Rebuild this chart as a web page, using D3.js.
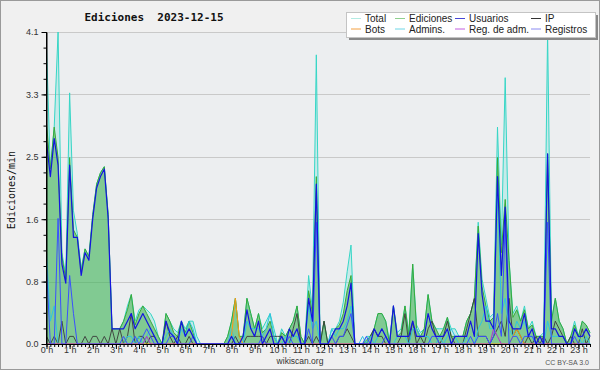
<!DOCTYPE html>
<html>
<head>
<meta charset="utf-8">
<script src="https://cdnjs.cloudflare.com/ajax/libs/d3/7.8.5/d3.min.js"></script>
<style>
body { margin: 0; background: #fff; }
</style>
</head>
<body>
<div id="chart"></div>
<script>
// 10 minute steps, 00:00 .. 23:30 (values in edits/min)
var hourLabels = ["0 h","1 h","2 h","3 h","4 h","5 h","6 h","7 h","8 h","9 h","10 h","11 h",
    "12 h","13 h","14 h","15 h","16 h","17 h","18 h","19 h","20 h","21 h","22 h","23 h"];

var total = [
    3.9,2.3,2.85,4.1,1.2,0.9, 3.3,1.75,1.45,1.0,1.25,1.15, 1.7,2.1,2.25,2.33,1.7,0.2,
    0.2,0.2,0.3,0.5,0.65,0.3, 0.45,0.5,0.45,0.4,0.3,0.1, 0,0.4,0.3,0.2,0.15,0.3,
    0.2,0.3,0.3,0.1,0,0, 0,0,0,0,0,0.1, 0.3,0.6,0.1,0.1,0.6,0.4,
    0.2,0.4,0.2,0.3,0.4,0.2, 0,0.2,0.1,0.2,0.3,0.5, 0.1,0,0.9,0.45,3.8,0,
    0.3,0,0.2,0.2,0.3,0.55, 0.95,1.3,0,0,0,0.1, 0.1,0.2,0.4,0.4,0.3,0.05,
    0.5,0.15,0.2,0.5,0.15,1.05, 0.25,0.15,0.2,0.65,0.3,0.2, 0.2,0.2,0.35,0.2,0.2,0.1,
    0.1,0.3,0.4,0.6,1.6,0.85, 0.6,0.35,0.4,2.85,1.3,3.5, 1.1,0.4,0.5,0.3,0.5,0.2,
    0.3,0.1,0.1,0.15,4.1,0.3, 0.6,0.3,0.2,0,0.1,0.3, 0.1,0.3,0.25,0.15];

var ediciones = [
    2.9,2.3,2.85,2.45,1.15,0.85, 2.45,1.5,1.4,0.95,1.25,1.15, 1.7,2.1,2.25,2.33,1.7,0.2,
    0.2,0.2,0.3,0.45,0.65,0.25, 0.4,0.5,0.4,0.3,0.2,0.1, 0,0.4,0.3,0.15,0.1,0.3,
    0.15,0.3,0.15,0,0,0, 0,0,0,0,0,0.1, 0.3,0.6,0.1,0.1,0.6,0.4,
    0.2,0.4,0.15,0.2,0.3,0.1, 0,0.15,0.1,0.2,0.3,0.5, 0.1,0,0.7,0.4,2.2,0,
    0.3,0,0.1,0.2,0.25,0.4, 0.7,0.9,0,0,0,0.05, 0.1,0.2,0.4,0.4,0.3,0,
    0.5,0.1,0.15,0.5,0.1,1.05, 0.2,0.1,0.2,0.65,0.3,0.2, 0.1,0.2,0.35,0.1,0.1,0.1,
    0.1,0.3,0.4,0.6,1.55,0.75, 0.5,0.3,0.35,2.45,1.2,1.9, 1.1,0.35,0.45,0.3,0.45,0.2,
    0.25,0.1,0.1,0.1,2.5,0.3, 0.6,0.3,0.2,0,0.1,0.25, 0.1,0.3,0.25,0.15];

var usuarios = [
    2.65,2.2,2.7,2.35,1.05,0.8, 2.35,1.4,1.4,0.9,1.2,1.1, 1.65,2.05,2.2,2.3,1.65,0.2,
    0.2,0.2,0.2,0.3,0.4,0.2, 0.3,0.4,0.3,0.2,0.1,0, 0,0.3,0.15,0.1,0,0.3,
    0.1,0.2,0.1,0,0,0, 0,0,0,0,0,0, 0.1,0,0,0.1,0.45,0.2,
    0.1,0.3,0,0.1,0.2,0, 0,0.1,0,0.2,0.1,0.2, 0,0,0.6,0.3,2.1,0,
    0,0,0.1,0.2,0.2,0.3, 0.5,0.8,0,0,0,0, 0,0.2,0.1,0.2,0.1,0,
    0.5,0.1,0.1,0.1,0.1,0.3, 0.1,0.1,0.1,0.4,0.2,0.1, 0.1,0.1,0.2,0,0.1,0.1,
    0.1,0.1,0.3,0.1,1.45,0.65, 0.3,0.3,0.2,2.2,0.9,1.8, 0.3,0.2,0.2,0.2,0.4,0.1,
    0.2,0,0.1,0,2.5,0.2, 0.2,0.1,0.1,0,0,0.2, 0.1,0.1,0.2,0.1];

var ip = [
    0.1,0,0.1,0,0.3,0, 0.1,0.1,0,0,0.1,0, 0.1,0.1,0,0.1,0,0.2,
    0,0.2,0,0.1,0.4,0, 0.1,0.1,0,0.1,0.1,0, 0,0.3,0.1,0,0.1,0,
    0,0.1,0,0,0,0, 0,0,0,0,0,0, 0,0.1,0,0,0.1,0.1,
    0.1,0.1,0.1,0,0.1,0.1, 0.1,0.1,0,0,0.2,0.4, 0,0,0.1,0,0.1,0,
    0.3,0,0,0,0.1,0.1, 0.2,0.1,0,0,0,0, 0.1,0.2,0.1,0.1,0,0,
    0,0,0.1,0.4,0,0.3, 0,0.1,0,0.2,0.3,0.1, 0,0.1,0.3,0.1,0,0,
    0,0.2,0.4,0.6,0.1,0.1, 0.1,0,0.1,0.2,0.3,0.1, 0.6,0.1,0.2,0.1,0,0.1,
    0,0.1,0,0.1,0,0.1, 0.3,0.2,0.1,0,0.1,0, 0,0.2,0,0.1];

var bots = [
    0,0,0,0,0,0, 0,0,0,0,0,0, 0,0,0,0,0,0,
    0,0,0,0,0,0, 0,0,0,0,0,0, 0,0,0,0,0,0,
    0,0,0,0,0,0, 0,0,0,0,0,0, 0.1,0.6,0.1,0,0,0,
    0,0,0,0,0,0, 0,0,0,0,0,0, 0,0,0,0,0,0,
    0,0,0,0,0,0, 0,0,0,0,0,0, 0,0,0,0,0,0,
    0,0,0,0,0,0, 0,0,0,0,0,0, 0,0,0,0,0,0,
    0,0,0,0,0,0, 0,0,0,0,0,0, 0,0.1,0.2,0.1,0,0,
    0,0,0,0,0,0, 0,0,0,0,0,0, 0,0,0,0];

var admins = [
    1.2,0.3,0.5,0,0,0, 0,0,0,0,0,0, 0,0,0,0,0,0,
    0,0,0,0.1,0.1,0, 0.1,0,0.1,0.2,0.1,0, 0,0.1,0.2,0.1,0,0.2,
    0.1,0.3,0.2,0,0,0, 0,0,0,0,0,0, 0.2,0,0,0,0.3,0.2,
    0.2,0.2,0.1,0.2,0.4,0.1, 0,0,0.1,0,0.1,0.1, 0,0,0.5,0.2,0.3,0,
    0,0,0.2,0.1,0.2,0.2, 0.3,0.5,0,0,0.1,0, 0.1,0,0.1,0.2,0.1,0,
    0,0.1,0.1,0.1,0,0.2, 0.2,0.1,0.1,0.1,0,0, 0.1,0,0.1,0.2,0.1,0,
    0,0.1,0,0,0.2,0.3, 0.5,0.2,0.2,2.1,0.4,0.6, 0.2,0.1,0.3,0.2,0.3,0.1,
    0.1,0,0,0,0.3,0.1, 0.1,0.1,0.1,0,0,0.2, 0.1,0,0.1,0];

var regAdm = [
    0,0,0,0,0,0, 0,0,0,0,0,0, 0,0,0,0,0,0,
    0,0,0,0,0,0, 0,0,0.1,0,0,0, 0,0,0,0,0,0,
    0,0,0,0,0,0, 0,0,0,0,0,0, 0,0,0,0,0,0,
    0,0,0,0,0,0, 0,0,0,0,0,0, 0,0,0,0,0,0,
    0,0,0,0,0,0, 0,0,0,0,0,0, 0,0,0,0,0,0,
    0,0,0,0,0,0, 0,0,0,0,0,0, 0,0,0,0,0,0,
    0,0,0,0,0,0, 0,0,0.2,0.1,0,0, 0,0,0,0,0,0,
    0,0,0,0,0,0, 0,0,0,0,0,0, 0,0,0,0];

var registros = [
    1.0,0,0,1.65,0,0, 0.9,0.4,0,0,0,0, 0,0,0,0,0,0,
    0,0,0.1,0,0,0.1, 0,0.1,0.2,0.1,0,0, 0,0,0.1,0.1,0,0,
    0,0,0.1,0,0,0, 0,0,0,0,0,0, 0,0,0,0,0,0,
    0,0,0.1,0,0,0, 0,0,0,0.1,0,0, 0,0,0.2,0,1.6,0,
    0,0,0.1,0,0.1,0.1, 0.25,0.4,0,0,0,0.1, 0,0,0,0,0.1,0,
    0,0,0,0,0,0, 0,0,0,0,0.1,0.1, 0,0,0,0,0,0,
    0,0,0.1,0,0.1,0.1, 0.1,0,0.1,0.4,0.1,1.6, 0,0.1,0.1,0,0.1,0.1,
    0.1,0,0,0,1.6,0, 0,0,0,0,0,0.1, 0,0,0,0];

var legendNames = ["Total", "Ediciones", "Usuarios", "IP", "Bots", "Admins.", "Reg. de adm.", "Registros"];
var legendColors = ["#b3ebe3", "#8fd08f", "#4646d6", "#333333", "#f4a040", "#6fd6e6", "#c25ee0", "#8a8af2"];

var width = 600, height = 370;
var plot = { left: 46.5, right: 590, top: 32, bottom: 344 };
var yMax = 4.1;

var svg = d3.select("#chart").append("svg")
    .attr("width", width)
    .attr("height", height)
    .style("font-family", "'Liberation Sans', Arial, sans-serif");

// background + frame
svg.append("rect")
    .attr("x", 0.5).attr("y", 0.5)
    .attr("width", width - 1).attr("height", height - 1)
    .attr("fill", "#f0f0f0")
    .attr("stroke", "#9a9a9a");

svg.append("rect")
    .attr("x", plot.left).attr("y", plot.top)
    .attr("width", plot.right - plot.left).attr("height", plot.bottom - plot.top)
    .attr("fill", "#eceef0");

var x = d3.scaleLinear().domain([0, total.length - 1]).range([plot.left, plot.right]);
var y = d3.scaleLinear().domain([0, yMax]).range([plot.bottom, plot.top]);

var majorY = d3.range(0, 6).map(function(k) { return yMax * k / 5; });
var minorY = d3.range(0, 21).map(function(k) { return yMax * k / 20; });

// grid
svg.append("g").selectAll("line")
    .data(majorY.slice(1))
    .enter().append("line")
    .attr("x1", plot.left).attr("x2", plot.right)
    .attr("y1", function(d) { return Math.round(y(d)) + 0.5; })
    .attr("y2", function(d) { return Math.round(y(d)) + 0.5; })
    .attr("stroke", "#c9c9c9");

// series
var line = function(data) {
    return d3.line().x(function(d, i) { return x(i); }).y(function(d) { return y(d); })(data);
};
var area = function(data) {
    return d3.area().x(function(d, i) { return x(i); }).y0(y(0)).y1(function(d) { return y(d); })(data);
};

var chart = svg.append("g");

chart.append("path").attr("d", area(total))
    .attr("fill", "#40e0d0").attr("fill-opacity", 0.22);
chart.append("path").attr("d", area(ediciones))
    .attr("fill", "rgb(60,170,60)").attr("fill-opacity", 0.5);

var series = [
    { data: total, color: "#36d6c6", w: 1 },
    { data: ediciones, color: "#38aa38", w: 1 },
    { data: ip, color: "#3a3a3a", w: 0.9 },
    { data: admins, color: "#2ec4e0", w: 1 },
    { data: bots, color: "#ff9a10", w: 1 },
    { data: regAdm, color: "#b030d0", w: 1 },
    { data: registros, color: "#3a50ff", w: 1 },
    { data: usuarios, color: "#1414e0", w: 1.2 }
];

chart.selectAll("path.serie")
    .data(series)
    .enter().append("path")
    .attr("class", "serie")
    .attr("d", function(d) { return line(d.data); })
    .attr("fill", "none")
    .attr("stroke", function(d) { return d.color; })
    .attr("stroke-width", function(d) { return d.w; })
    .attr("stroke-linejoin", "round");

// y axis
svg.append("g")
    .attr("transform", "translate(" + plot.left + ",0)")
    .call(d3.axisLeft(y).tickValues(minorY).tickSize(3).tickFormat("").tickSizeOuter(0))
    .call(function(g) { g.select(".domain").remove(); });

var yAxis = svg.append("g")
    .attr("transform", "translate(" + plot.left + ",0)")
    .call(d3.axisLeft(y).tickValues(majorY).tickSize(5).tickPadding(3)
        .tickFormat(d3.format(".1f")).tickSizeOuter(0));
yAxis.selectAll("text").style("font-size", "9px").attr("fill", "#333").style("font-family", "'Liberation Sans', Arial, sans-serif");

// x axis
var hourTicks = d3.range(0, 24).map(function(h) { return h * 6; });
svg.append("g")
    .attr("transform", "translate(0," + plot.bottom + ")")
    .call(d3.axisBottom(x).tickValues(d3.range(0, total.length)).tickSize(3).tickFormat("").tickSizeOuter(0))
    .call(function(g) { g.select(".domain").remove(); });

var xAxis = svg.append("g")
    .attr("transform", "translate(0," + plot.bottom + ")")
    .call(d3.axisBottom(x).tickValues(hourTicks).tickSize(5)
        .tickFormat(function(d, i) { return hourLabels[i]; }).tickSizeOuter(0));
xAxis.select(".domain").attr("d", "M" + plot.left + ",0.5H" + plot.right);
xAxis.selectAll("text").attr("y", 2.5).style("font-size", "9px").attr("fill", "#333")
    .style("font-family", "'Liberation Sans', Arial, sans-serif");

svg.append("line")
    .attr("x1", plot.left).attr("x2", plot.left)
    .attr("y1", plot.top).attr("y2", plot.bottom)
    .attr("stroke", "#000");

// title + labels
svg.append("text")
    .attr("x", 154).attr("y", 21)
    .attr("text-anchor", "middle")
    .style("white-space", "pre")
    .style("font-family", "'DejaVu Sans Mono', monospace")
    .style("font-weight", "bold")
    .style("font-size", "11px")
    .attr("fill", "#111")
    .text("Ediciones  2023-12-15");

svg.append("text")
    .attr("transform", "translate(15,190) rotate(-90)")
    .attr("text-anchor", "middle")
    .style("font-family", "'DejaVu Sans Mono', monospace")
    .style("font-size", "10px")
    .attr("fill", "#111")
    .text("Ediciones/min");

svg.append("text")
    .attr("x", 300).attr("y", 364)
    .attr("text-anchor", "middle")
    .style("font-size", "8.5px")
    .attr("fill", "#333")
    .text("wikiscan.org");

svg.append("text")
    .attr("x", 589).attr("y", 365)
    .attr("text-anchor", "end")
    .style("font-size", "7px")
    .attr("fill", "#555")
    .text("CC BY-SA 3.0");

// legend
var legend = svg.append("g");
legend.append("rect")
    .attr("x", 349).attr("y", 15).attr("width", 249).attr("height", 25)
    .attr("fill", "#888");
legend.append("rect")
    .attr("x", 346.5).attr("y", 12.5).attr("width", 249).attr("height", 25)
    .attr("fill", "#fff").attr("stroke", "#c4c4c4");

var colX = [351, 395, 455, 531];
var items = legend.selectAll("g.item")
    .data(legendNames)
    .enter().append("g")
    .attr("class", "item")
    .attr("transform", function(d, i) {
        return "translate(" + colX[i % 4] + "," + (i < 4 ? 18.5 : 29) + ")";
    });
items.append("line")
    .attr("x1", 0).attr("x2", 10)
    .attr("stroke", function(d, i) { return legendColors[i]; });
items.append("text")
    .attr("x", 14).attr("y", 3.5)
    .style("font-size", "10px")
    .attr("fill", "#222")
    .text(function(d) { return d; });
</script>
</body>
</html>
